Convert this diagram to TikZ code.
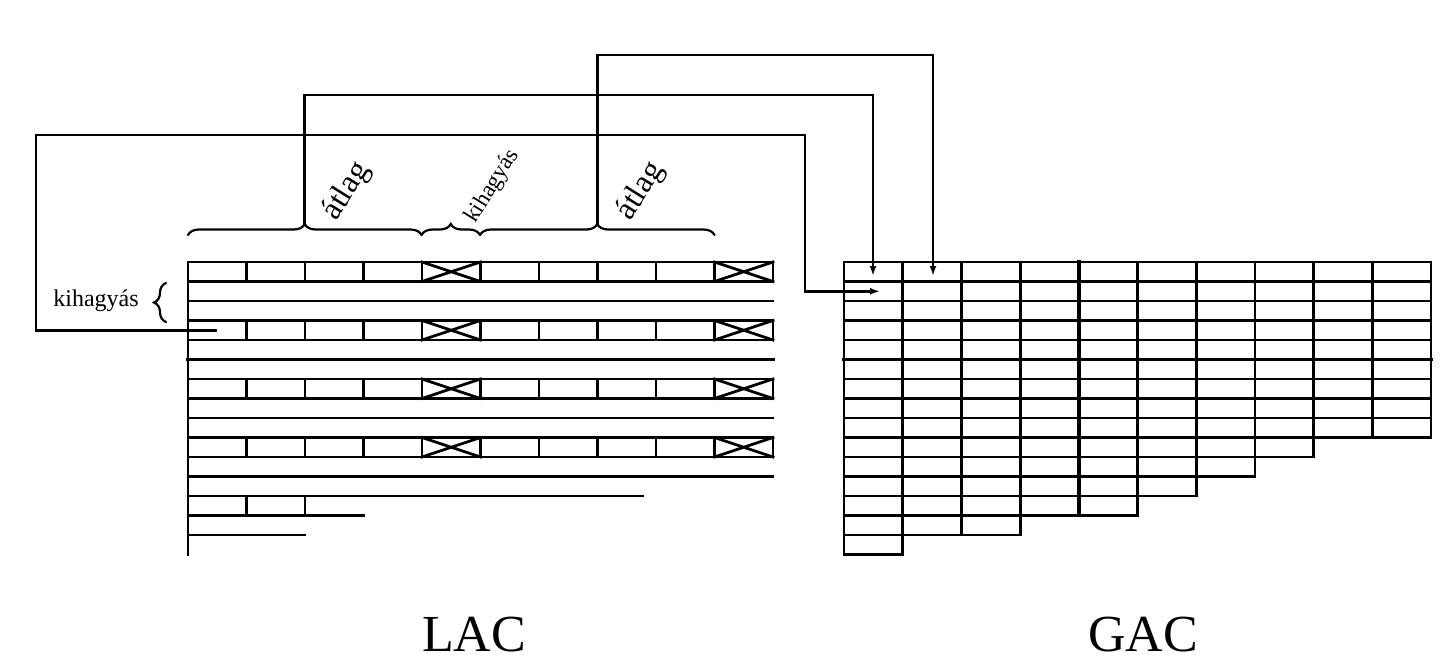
\documentclass[tikz,border=0pt]{standalone}
\usepackage{fontspec}
\setmainfont{Liberation Serif}
\usetikzlibrary{arrows.meta,decorations.pathreplacing}
\tikzstyle{table line}=[
    line width = 1.4pt,
    line cap = rect
]
\tikzstyle{curly}=[
    line width = 1.1pt,
    line cap = round,
    decorate,
    decoration = {brace, amplitude = 5.5pt}
]

\begin{document}
\begin{tikzpicture}[x=0.5pt, y=-0.5pt, table line,
        tip/.style = {line cap=butt, -{Latex[length=5pt,width=3.5pt]}},
        heavy/.style = {line width=1.8pt},
        slant/.style = {inner sep=0pt, anchor=base west, rotate=58}]
        \useasboundingbox (0,0) rectangle (1454,666);

        \foreach \k in {0,...,11}
            \draw (188,262+19.5*\k) -- (773,262+19.5*\k);
        \draw[heavy] (188,359.5) -- (773,359.5);
        \draw (188,496) -- (643,496);
        \draw (188,515.5) -- (363.5,515.5);
        \draw (188,535) -- (305,535);
        \draw (188,262) -- (188,554.5);
        \foreach \k in {0,3,6,9} {
            \foreach \c in {0,...,10}
                \draw (188+58.5*\c,262+19.5*\k) -- ++(0,19.5);
            \foreach \c in {4,9}
                \draw (188+58.5*\c,262+19.5*\k) -- ++(58.5,19.5)
                      ++(-58.5,0) -- ++(58.5,-19.5);
        }
        \foreach \c in {1,2}
            \draw (188+58.5*\c,496) -- ++(0,19.5);

        \foreach \k/\n in {0/10,1/10,2/10,3/10,4/10,5/10,6/10,7/10,8/10,
                           9/8,10/7,11/6,12/5,13/3,14/1}
            \foreach \c in {1,...,\n}
                \draw (844+58.7*\c-58.7,262+19.5*\k) rectangle ++(58.7,19.5);
        \draw[heavy] (844,359.5) -- (1431,359.5);
        \draw[heavy] (1078.8,262) -- (1078.8,515.5);

        \draw[curly] (188,235) -- (421.5,235);
        \draw[curly] (421.5,235) -- (480,235);
        \draw[curly] (480,235) -- (714.5,235);
        \draw[curly, decoration = {brace, amplitude = 6pt}] (166,322) -- (166,283);

        \coordinate (lac) at (217,330.25);
        \coordinate (tip1) at (304.75,224);
        \coordinate (tip3) at (597.25,224);
        \coordinate (g11) at (873,276);
        \coordinate (g12) at (933,276);
        \coordinate (g21) at (880,291.25);

        \draw[tip] (lac) -| (36,135) -| (805,291.25) -- (g21);
        \draw[tip] (tip1) |- (873,95) -- (g11);
        \draw[tip] (tip3) |- (933,55) -- (g12);

        \node[slant, font=\fontsize{16}{19}\selectfont] (avg1) at (336,223) {átlag};
        \node[slant, font=\fontsize{11.5}{14}\selectfont] (skip1) at (475,225) {kihagyás};
        \node[slant, font=\fontsize{16}{19}\selectfont] (avg2) at (630,223) {átlag};
        \node[inner sep=0pt, anchor=base west, font=\fontsize{12}{14}\selectfont] (skip0) at (52,306) {kihagyás};
        \node[inner sep=0pt, anchor=base, font=\fontsize{26}{30}\selectfont] (lacname) at (474,651) {LAC};
        \node[inner sep=0pt, anchor=base, font=\fontsize{26}{30}\selectfont] (gacname) at (1143,651) {GAC};
    \end{tikzpicture}
\end{document}
